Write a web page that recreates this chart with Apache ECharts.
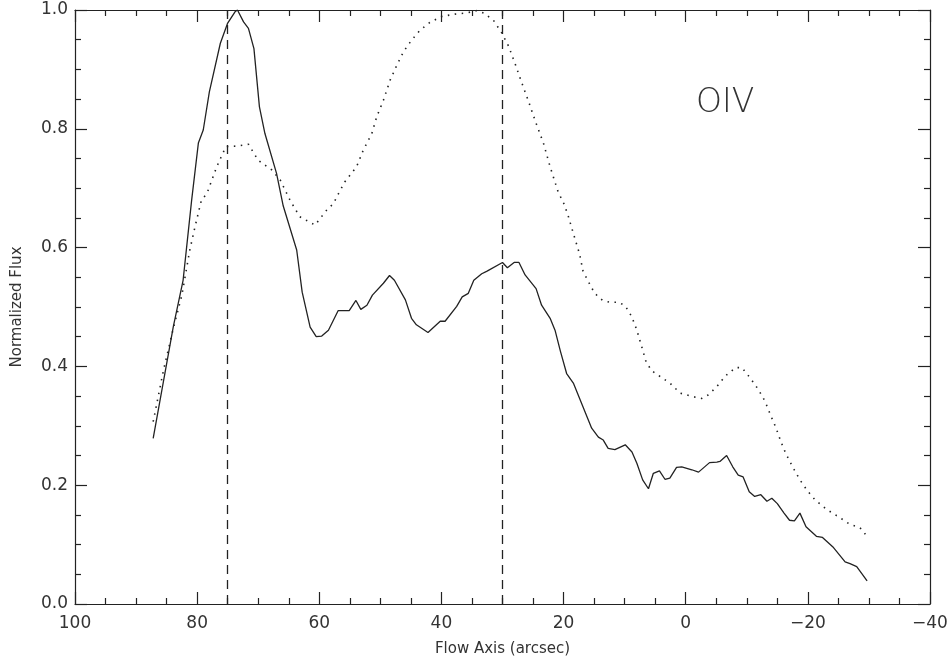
<!DOCTYPE html>
<html>
<head>
<meta charset="utf-8">
<script src="https://cdn.jsdelivr.net/npm/echarts@6/dist/echarts.min.js"></script>
<style>
  html, body { margin: 0; padding: 0; background: #fff; }
  #chart { width: 951px; height: 658px; }
</style>
</head>
<body>
<div id="chart"></div>
<script>
// solid profile (flow axis in arcsec, normalized flux)
var solidX = [87.2, 83.9, 82.3, 80.9, 79.8, 79.0, 78.0, 76.2, 75.0, 73.8, 73.4, 72.4, 71.6, 70.7, 69.8, 68.9, 67.0, 65.9, 63.7, 62.8,
  61.5, 60.5, 59.6, 58.5, 56.9, 55.1, 54.0, 53.2, 52.2, 51.3, 49.5, 48.5, 47.7, 45.9, 44.9, 44.1, 42.2, 40.2, 39.4, 37.5,
  36.6, 35.6, 34.7, 33.4, 32.6, 30.0, 29.2, 28.1, 27.3, 26.3, 24.5, 23.6, 22.2, 21.4, 20.5, 19.5, 18.4, 15.4, 14.3, 13.5,
  12.7, 11.6, 9.9, 8.8, 8.0, 7.05, 6.1, 5.3, 4.3, 3.4, 2.6, 1.5, 0.65, -1.0, -2.1, -3.9, -5.1, -5.6, -6.7, -7.7,
  -8.6, -9.4, -10.4, -11.3, -12.3, -13.3, -14.1, -15.0, -16.1, -17.0, -17.8, -18.7, -19.7, -21.4, -22.4, -24.2, -26.1, -26.9, -28.0, -29.7];
var solidY = [0.279, 0.467, 0.545, 0.680, 0.776, 0.798, 0.862, 0.944, 0.978, 0.997, 1.000, 0.980, 0.969, 0.935, 0.837, 0.792, 0.725, 0.670, 0.596, 0.525,
  0.466, 0.450, 0.451, 0.461, 0.494, 0.494, 0.511, 0.496, 0.503, 0.520, 0.540, 0.553, 0.545, 0.512, 0.481, 0.470, 0.457, 0.476, 0.476, 0.501,
  0.517, 0.523, 0.545, 0.556, 0.560, 0.575, 0.566, 0.575, 0.575, 0.554, 0.531, 0.503, 0.481, 0.461, 0.425, 0.388, 0.372, 0.296, 0.281, 0.276,
  0.262, 0.260, 0.268, 0.256, 0.237, 0.209, 0.194, 0.220, 0.224, 0.210, 0.212, 0.230, 0.231, 0.226, 0.222, 0.238, 0.239, 0.240, 0.250, 0.231,
  0.217, 0.214, 0.189, 0.181, 0.184, 0.173, 0.178, 0.169, 0.153, 0.141, 0.140, 0.153, 0.130, 0.114, 0.112, 0.095, 0.071, 0.068, 0.063, 0.039];

// dotted profile
var dottedX = [87.2, 85.5, 83.9, 82.5, 81.2, 80.35, 79.3, 78.4, 76.8, 75.3, 73.5, 71.6, 70.0, 67.8, 66.4, 64.8, 63.2, 60.7, 58.8, 57.7,
  56.7, 55.8, 53.9, 52.8, 51.4, 50.6, 49.5, 48.4, 47.3, 46.2, 44.9, 43.5, 41.9, 40.0, 37.8, 35.9, 34.2, 33.1, 31.5, 30.1,
  29.0, 27.95, 26.9, 25.8, 24.7, 23.3, 22.2, 20.9, 19.9, 19.2, 18.4, 17.4, 16.8, 15.8, 14.9, 13.6, 12.4, 11.0, 9.9, 8.85,
  8.0, 7.2, 6.5, 5.6, 4.2, 2.6, 0.9, -1.2, -2.6, -3.7, -5.1, -6.5, -8.2, -9.2, -10.6, -11.9, -13.0, -13.9, -14.8, -15.6,
  -16.4, -17.5, -18.7, -19.9, -21.2, -23.1, -25.0, -26.9, -28.5, -29.6];
var dottedY = [0.307, 0.394, 0.464, 0.520, 0.596, 0.635, 0.680, 0.691, 0.736, 0.770, 0.771, 0.774, 0.747, 0.731, 0.714, 0.680, 0.652, 0.638, 0.663, 0.674,
  0.694, 0.711, 0.736, 0.764, 0.792, 0.820, 0.848, 0.882, 0.907, 0.930, 0.949, 0.966, 0.979, 0.989, 0.993, 0.995, 0.999, 0.995, 0.983, 0.961,
  0.939, 0.910, 0.879, 0.848, 0.815, 0.776, 0.736, 0.694, 0.673, 0.652, 0.624, 0.590, 0.560, 0.540, 0.523, 0.511, 0.508, 0.508, 0.502, 0.484,
  0.461, 0.433, 0.408, 0.393, 0.383, 0.372, 0.355, 0.349, 0.346, 0.352, 0.366, 0.384, 0.398, 0.398, 0.380, 0.361, 0.341, 0.318, 0.296, 0.273,
  0.253, 0.231, 0.209, 0.191, 0.175, 0.159, 0.147, 0.134, 0.129, 0.115];

// vertical dashed markers
var markerX = [75, 30];

var font = "DejaVu Sans";
var ink = "#222";

function pairs(xs, ys) {
  return xs.map(function (x, i) { return [x, ys[i]]; });
}

var chart = echarts.init(document.getElementById("chart"));

// IDL style box: ticks on all four sides, pointing inward
function boxAxis(pos, withLabels) {
  return {
    position: pos,
    axisLine: { show: true, onZero: false, lineStyle: { color: ink, width: 1.2 } },
    axisTick: { show: true, inside: true, length: 12, lineStyle: { color: ink, width: 1.2 } },
    minorTick: { show: true, splitNumber: 4, length: 6, lineStyle: { color: ink, width: 1.2 } },
    splitLine: { show: false },
    axisLabel: { show: withLabels }
  };
}

var xBottom = Object.assign(boxAxis("bottom", true), {
  type: "value", inverse: true, min: -40, max: 100, interval: 20,
  name: "Flow Axis (arcsec)", nameLocation: "middle", nameGap: 38,
  nameTextStyle: { fontFamily: font, fontSize: 15, color: "#333" }
});
xBottom.axisLabel = {
  show: true, margin: 11, fontFamily: font, fontSize: 17, color: "#333",
  formatter: function (v) { return v < 0 ? "\u2212" + (-v) : String(v); }
};
var xTop = Object.assign(boxAxis("top", false), {
  type: "value", inverse: true, min: -40, max: 100, interval: 20
});

var yLeft = Object.assign(boxAxis("left", true), {
  type: "value", min: 0, max: 1, interval: 0.2,
  name: "Normalized Flux", nameLocation: "middle", nameGap: 50, nameRotate: 90,
  nameTextStyle: { fontFamily: font, fontSize: 15, color: "#333" }
});
yLeft.axisLabel = {
  show: true, margin: 7, fontFamily: font, fontSize: 17, color: "#333",
  formatter: function (v) { return v.toFixed(1); }
};
var yRight = Object.assign(boxAxis("right", false), {
  type: "value", min: 0, max: 1, interval: 0.2
});

var option = {
  backgroundColor: "#fff",
  animation: false,
  grid: { left: 75, right: 21, top: 10, bottom: 54, outerBoundsMode: "none", containLabel: false },
  xAxis: [xBottom, xTop],
  yAxis: [yLeft, yRight],
  graphic: [{
    type: "text", left: 696, top: 87,
    style: { text: "OIV", fontFamily: font, fontSize: 33, fontWeight: "lighter", fill: "#333" }
  }],
  series: [
    {
      type: "line", xAxisIndex: 0, yAxisIndex: 0,
      data: pairs(solidX, solidY),
      showSymbol: false, symbol: "none",
      lineStyle: { color: ink, width: 1.3 },
      markLine: {
        silent: true, symbol: "none", label: { show: false },
        lineStyle: { color: ink, width: 1.3, type: [9, 6] },
        data: markerX.map(function (x) { return { xAxis: x }; })
      }
    },
    {
      type: "line", xAxisIndex: 0, yAxisIndex: 0,
      data: pairs(dottedX, dottedY),
      showSymbol: false, symbol: "none",
      lineStyle: { color: ink, width: 1.6, type: [1.5, 5.5] }
    }
  ]
};

option && chart.setOption(option);
window.addEventListener("resize", function () {
  chart.resize();
});
</script>
</body>
</html>
